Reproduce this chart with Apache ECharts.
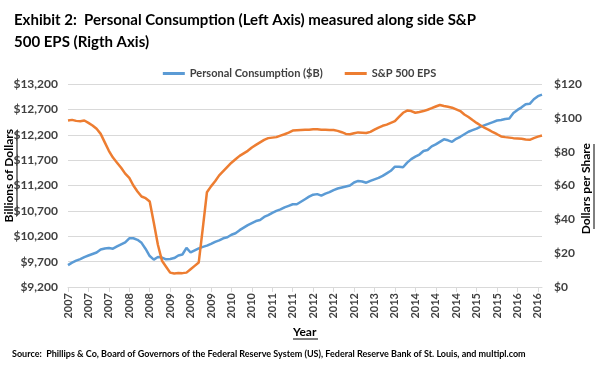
<!DOCTYPE html>
<html><head><meta charset="utf-8">
<script src="https://cdn.jsdelivr.net/npm/echarts@6/dist/echarts.min.js"></script>
<style>html,body{margin:0;padding:0;background:#fff}#c{width:599px;height:367px}</style>
</head><body><div id="c"></div>
<script>
// Monthly categories, Jan 2007 .. Sep 2016
const startYear = 2007;
const monthCount = 117;
const categories = [];
for (let i = 0; i < monthCount; i++) {
  const y = startYear + Math.floor(i / 12);
  const m = (i % 12) + 1;
  categories.push(y + '-' + (m < 10 ? '0' + m : m));
}

const personalConsumption = [
  9630, 9680, 9720, 9750, 9790, 9820, 9850, 9880, 9940, 9960, 9970, 9955,
  10000, 10040, 10080, 10160, 10160, 10130, 10070, 9950, 9810, 9740, 9790, 9780,
  9745, 9750, 9770, 9820, 9840, 9970, 9880, 9920, 9960, 9990, 10015, 10050,
  10090, 10120, 10160, 10180, 10230, 10260, 10320, 10370, 10420, 10460, 10500, 10520,
  10580, 10615, 10660, 10700, 10730, 10770, 10800, 10830, 10830, 10880, 10930, 10980,
  11020, 11030, 11000, 11040, 11070, 11110, 11140, 11160, 11180, 11200, 11260, 11290,
  11280, 11255, 11290, 11320, 11350, 11390, 11440, 11490, 11570, 11570, 11560, 11650,
  11720, 11770, 11810, 11880, 11900, 11970, 12010, 12060, 12110, 12090, 12060, 12120,
  12160, 12210, 12260, 12290, 12320, 12360, 12390, 12420, 12450, 12480, 12490, 12510,
  12520, 12630, 12690, 12740, 12800, 12810, 12900, 12960, 12990
];

const spEps = [
  98.4, 98.8, 98.2, 98.0, 98.4, 97.0, 95.5, 93.5, 90.5, 85.5, 80.5, 76.5,
  73.5, 70.5, 67.0, 64.5, 60.0, 56.5, 53.5, 52.5, 50.5, 38.0, 25.0, 15.5,
  12.0, 8.5, 8.0, 8.3, 8.2, 8.5, 10.5, 12.5, 14.5, 35.0, 56.0, 59.5,
  62.5, 66.0, 68.5, 71.0, 73.5, 75.5, 77.5, 79.0, 80.5, 82.5, 84.0, 85.5,
  87.0, 88.0, 88.3, 88.6, 89.5, 90.3, 91.3, 92.5, 92.7, 92.8, 92.9, 93.0,
  93.2, 93.2, 93.0, 92.9, 92.8, 92.8, 92.3, 91.5, 90.5, 90.3, 90.9, 91.4,
  91.2, 91.0, 91.7, 93.0, 94.2, 95.3, 96.0, 97.0, 98.0, 100.5, 103.0, 104.3,
  104.0, 103.0, 103.4, 104.0, 104.8, 105.7, 106.7, 107.6, 107.0, 106.5, 106.0, 105.0,
  104.0, 102.0, 100.5, 98.7, 97.0, 95.5, 94.0, 92.9, 91.5, 90.3, 89.0, 88.6,
  88.3, 88.0, 87.8, 87.6, 87.2, 87.0, 88.0, 88.9, 89.6
];

const leftAxis = { min: 9200, max: 13200, interval: 500 };
const rightAxis = { min: 0, max: 120, interval: 20 };

function money(v) {
  return '$' + String(Math.round(v)).replace(/\B(?=(\d{3})+(?!\d))/g, ',');
}

const FONT = 'Lato';
const chart = echarts.init(document.getElementById('c'), null, { renderer: 'canvas' });
chart.setOption({
  animation: false,
  backgroundColor: '#fff',
  textStyle: { fontFamily: FONT },
  title: {
    text: 'Exhibit 2:  Personal Consumption (Left Axis) measured along side S&P\n500 EPS (Rigth Axis)',
    left: 9, top: 4,
    textStyle: { fontFamily: FONT, fontSize: 15, fontWeight: 'bold', color: '#000', lineHeight: 22 }
  },
  legend: {
    top: 63, left: 'center',
    itemWidth: 22, itemHeight: 3, itemGap: 22,
    icon: 'rect',
    textStyle: { fontFamily: FONT, fontSize: 11, fontWeight: 'bold', color: '#404040' },
    data: ['Personal Consumption ($B)', 'S&P 500 EPS']
  },
  grid: { left: 68, right: 57, top: 84, bottom: 80, containLabel: false },
  xAxis: {
    type: 'category',
    data: categories,
    boundaryGap: false,
    axisLine: { lineStyle: { color: '#d9d9d9', width: 1 } },
    axisTick: { interval: 4, length: 5, lineStyle: { color: '#d9d9d9' } },
    axisLabel: {
      interval: 4, rotate: 90, margin: 6,
      fontFamily: FONT, fontSize: 11, fontWeight: 'bold', color: '#404040',
      formatter: v => v.slice(0, 4)
    },
    splitLine: { show: false }
  },
  yAxis: [
    {
      type: 'value', position: 'left',
      min: leftAxis.min, max: leftAxis.max, interval: leftAxis.interval,
      axisLine: { show: false }, axisTick: { show: false },
      axisLabel: { fontFamily: FONT, fontSize: 12, fontWeight: 'bold', color: '#404040', margin: 10, formatter: money },
      splitLine: { lineStyle: { color: '#d9d9d9', width: 1 } }
    },
    {
      type: 'value', position: 'right',
      min: rightAxis.min, max: rightAxis.max, interval: rightAxis.interval,
      axisLine: { show: false }, axisTick: { show: false },
      axisLabel: { fontFamily: FONT, fontSize: 12, fontWeight: 'bold', color: '#404040', margin: 12, formatter: money },
      splitLine: { show: false }
    }
  ],
  series: [
    {
      name: 'Personal Consumption ($B)', type: 'line', yAxisIndex: 0,
      data: personalConsumption, showSymbol: false, smooth: false,
      lineStyle: { color: '#5B9BD5', width: 2.5 }, itemStyle: { color: '#5B9BD5' }
    },
    {
      name: 'S&P 500 EPS', type: 'line', yAxisIndex: 1,
      data: spEps, showSymbol: false, smooth: false,
      lineStyle: { color: '#ED7D31', width: 2.5 }, itemStyle: { color: '#ED7D31' }
    }
  ],
  graphic: [
    { type: 'text', left: 3, top: 129, rotation: Math.PI / 2,
      style: { text: 'Billions of Dollars', font: 'bold 12px Lato', fill: '#000' } },
    { type: 'line', shape: { x1: 17, y1: 130, x2: 17, y2: 216 }, style: { stroke: '#000', lineWidth: 1 } },
    { type: 'text', left: 580, top: 143, rotation: Math.PI / 2,
      style: { text: 'Dollars per Share', font: 'bold 12px Lato', fill: '#000' } },
    { type: 'line', shape: { x1: 594, y1: 144, x2: 594, y2: 229 }, style: { stroke: '#000', lineWidth: 1 } },
    { type: 'text', left: 293, top: 326,
      style: { text: 'Year', font: 'bold 12px Lato', fill: '#000' } },
    { type: 'line', shape: { x1: 293, y1: 339, x2: 318, y2: 339 }, style: { stroke: '#000', lineWidth: 1 } },
    { type: 'text', left: 12, top: 350,
      style: { text: 'Source:  Phillips & Co, Board of Governors of the Federal Reserve System (US), Federal Reserve Bank of St. Louis, and multipl.com', font: 'bold 9px Lato', fill: '#000' } }
  ]
});
</script></body></html>
